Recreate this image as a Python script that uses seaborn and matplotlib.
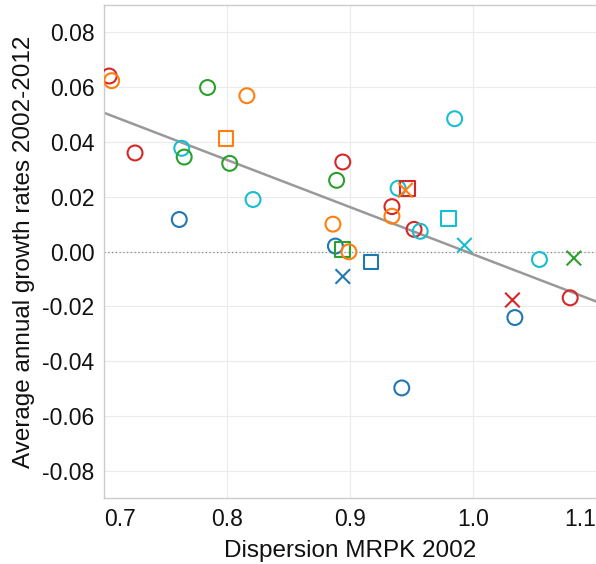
import seaborn as sns
import matplotlib.pyplot as plt
import pandas as pd

# values
dispersion = [0.704, 0.706, 0.784, 0.816, 0.799, 0.725, 0.763, 0.765, 0.802, 0.821,
              0.761, 0.889, 0.894, 0.886, 0.888, 0.894, 0.899, 0.917, 0.894, 0.939,
              0.945, 0.947, 0.934, 0.934, 0.952, 0.957, 0.980, 0.985, 0.993, 0.942,
              1.054, 1.082, 1.032, 1.079, 1.034]
growth = [0.0641, 0.0624, 0.0599, 0.0569, 0.0413, 0.0360, 0.0377, 0.0345, 0.0322, 0.0190,
          0.0117, 0.0260, 0.0327, 0.0100, 0.0020, 0.0008, -0.0001, -0.0038, -0.0091, 0.0231,
          0.0224, 0.0229, 0.0164, 0.0129, 0.0081, 0.0074, 0.0120, 0.0485, 0.0023, -0.0498,
          -0.0029, -0.0024, -0.0177, -0.0169, -0.0241]
group = ['G4', 'G2', 'G3', 'G2', 'G2', 'G4', 'G5', 'G3', 'G3', 'G5',
         'G1', 'G3', 'G4', 'G2', 'G1', 'G3', 'G2', 'G1', 'G1', 'G5',
         'G2', 'G4', 'G4', 'G2', 'G4', 'G5', 'G5', 'G5', 'G5', 'G1',
         'G5', 'G3', 'G4', 'G4', 'G1']
kind = ['A', 'A', 'A', 'A', 'B', 'A', 'A', 'A', 'A', 'A',
        'A', 'A', 'A', 'A', 'A', 'B', 'A', 'B', 'C', 'A',
        'C', 'B', 'A', 'A', 'A', 'A', 'B', 'A', 'C', 'A',
        'A', 'C', 'C', 'A', 'A']

# fitted line
fit_intercept = 0.1711
fit_slope = -0.1721

x_ticks = [0.7, 0.8, 0.9, 1.0, 1.1]
y_ticks = [-0.08, -0.06, -0.04, -0.02, 0.00, 0.02, 0.04, 0.06, 0.08]

df = pd.DataFrame({'x': dispersion, 'y': growth, 'group': group, 'kind': kind})

palette = {'G1': '#1f77b4', 'G2': '#ff7f0e', 'G3': '#2ca02c',
           'G4': '#d62728', 'G5': '#17becf'}

sns.set_style('white')
plt.rcParams['font.family'] = ['Liberation Sans', 'DejaVu Sans']
plt.rcParams['text.color'] = '#111111'
plt.rcParams['axes.labelcolor'] = '#111111'
plt.rcParams['xtick.labelcolor'] = '#111111'
plt.rcParams['ytick.labelcolor'] = '#111111'

fig = plt.figure(figsize=(5.96, 5.64), dpi=100)
ax = fig.add_axes([0.175, 0.117, 0.825, 0.874])

# regression line
xs = pd.Series([0.7, 1.1])
ax.plot(xs, fit_intercept + fit_slope * xs, color='#999999', lw=1.8, zorder=2)
ax.axhline(0, color='#888888', lw=0.9, ls=(0, (1, 2)), zorder=1)

# hollow circles and squares
filled = df[df['kind'] != 'C']
sns.scatterplot(data=filled, x='x', y='y', hue='group', style='kind',
                markers={'A': 'o', 'B': 's'}, palette=palette, s=115,
                legend=False, ax=ax, zorder=3)
coll = ax.collections[-1]
coll.set_edgecolors(coll.get_facecolors())
coll.set_facecolors('none')
coll.set_linewidths(1.5)

# crosses
crosses = df[df['kind'] == 'C']
sns.scatterplot(data=crosses, x='x', y='y', hue='group', marker='x',
                palette=palette, s=110, linewidth=1.5, legend=False, ax=ax, zorder=3)

ax.set_xlim(0.7, 1.1)
ax.set_ylim(-0.09, 0.09)
ax.set_xticks(x_ticks)
ax.set_yticks(y_ticks)
ax.set_xticklabels(['%.1f' % v for v in x_ticks])
ax.set_yticklabels(['%.2f' % v for v in y_ticks])
labels = ax.get_xticklabels()
labels[0].set_horizontalalignment('left')
labels[-1].set_horizontalalignment('right')

ax.grid(True, color='#ebebeb', lw=0.8)
ax.set_axisbelow(True)
ax.tick_params(axis='both', labelsize=16.5, length=4, color='#cccccc', pad=3)
for side in ['left', 'bottom', 'top']:
    ax.spines[side].set_color('#cccccc')
    ax.spines[side].set_linewidth(1)
ax.spines['right'].set_visible(False)

ax.set_xlabel('Dispersion MRPK 2002', fontsize=17.5, labelpad=7)
ax.set_ylabel('Average annual growth rates 2002-2012', fontsize=17.5, labelpad=5)

fig.savefig('out.png', dpi=100)
